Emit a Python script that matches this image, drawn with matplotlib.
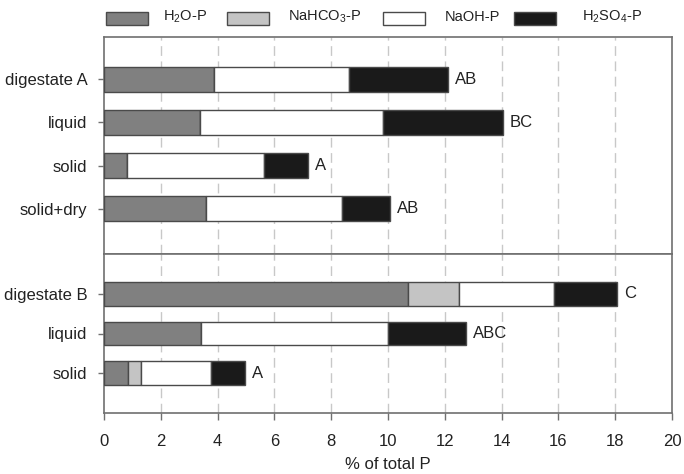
import matplotlib
matplotlib.use("Agg")
import matplotlib.pyplot as plt
import numpy as np
from matplotlib.patches import Rectangle

plt.rcParams['font.family'] = ['Liberation Sans', 'DejaVu Sans']
plt.rcParams['mathtext.fontset'] = 'custom'
plt.rcParams['mathtext.rm'] = 'Liberation Sans'
plt.rcParams['mathtext.it'] = 'Liberation Sans'
plt.rcParams['mathtext.bf'] = 'Liberation Sans'

# ---- data ----
samples_A = ['digestate A', 'liquid', 'solid', 'solid+dry']
h2o_A = [3.87, 3.37, 0.80, 3.60]
nahco3_A = [0.0, 0.0, 0.0, 0.0]
naoh_A = [4.76, 6.45, 4.85, 4.77]
h2so4_A = [3.49, 4.23, 1.55, 1.70]
letters_A = ['AB', 'BC', 'A', 'AB']

samples_B = ['digestate B', 'liquid', 'solid']
h2o_B = [10.70, 3.40, 0.85]
nahco3_B = [1.80, 0.0, 0.44]
naoh_B = [3.34, 6.60, 2.46]
h2so4_B = [2.22, 2.75, 1.22]
letters_B = ['C', 'ABC', 'A']

fractions = [r'H$_\mathregular{2}$O-P', r'NaHCO$_\mathregular{3}$-P', 'NaOH-P',
             r'H$_\mathregular{2}$SO$_\mathregular{4}$-P']
xticks = [0, 2, 4, 6, 8, 10, 12, 14, 16, 18, 20]
xlabel = '% of total P'

colors = ['#808080', '#c4c4c4', '#ffffff', '#1a1a1a']
edge = '#4a4a4a'
spine_c = '#707070'
grid_c = '#c8c8c8'

W, H = 684, 474
fig = plt.figure(figsize=(W / 100, H / 100), dpi=100)

left = 104 / W
width = (672 - 104) / W
axA = fig.add_axes([left, 1 - 254 / H, width, (254 - 37) / H])
axB = fig.add_axes([left, 1 - 413 / H, width, (413 - 254) / H])


def draw(ax, samples, series, letters, ylim, bh, show_x):
    y = np.arange(len(samples))
    base = np.zeros(len(samples))
    for vals, c in zip(series, colors):
        ax.barh(y, vals, left=base, height=bh, color=c, edgecolor=edge,
                linewidth=1.0, zorder=3)
        base = base + np.array(vals)
    for yi, tot, lab in zip(y, base, letters):
        ax.annotate(lab, xy=(tot, yi), xytext=(5, 0), textcoords='offset points',
                    va='center', ha='left', fontsize=12, color='#222222')
    ax.set_xlim(0, 20)
    ax.set_ylim(*ylim)
    ax.set_yticks(y)
    ax.set_yticklabels(samples, fontsize=12, color='#222222')
    for xv in xticks[1:-1]:
        ax.axvline(xv, color=grid_c, lw=1.0, dashes=(7, 4), zorder=1)
    ax.set_xticks(xticks)
    ax.tick_params(axis='y', length=4, width=1, color=spine_c, pad=8)
    if show_x:
        ax.set_xticklabels([str(v) for v in xticks], fontsize=12, color='#222222')
        ax.tick_params(axis='x', length=5, width=1, color=spine_c, pad=10)
    else:
        ax.tick_params(axis='x', length=0, labelbottom=False)
    for s in ax.spines.values():
        s.set_color(spine_c)
        s.set_linewidth(1.2)


draw(axA, samples_A, [h2o_A, nahco3_A, naoh_A, h2so4_A], letters_A,
     (4.05, -0.98), 0.58, False)
draw(axB, samples_B, [h2o_B, nahco3_B, naoh_B, h2so4_B], letters_B,
     (3.0, -1.0), 0.6, True)

# legend (manual layout)
patch_x = [106, 227, 383, 514]
text_x = [163, 288, 445, 582]
for px, tx, lab, c in zip(patch_x, text_x, fractions, colors):
    fig.add_artist(Rectangle((px / W, 1 - 25 / H), 42 / W, 13 / H,
                             transform=fig.transFigure, facecolor=c,
                             edgecolor=edge, linewidth=1.0))
    fig.text(tx / W, 1 - 21 / H, lab, fontsize=10.5, ha='left', va='baseline',
             color='#222222')

fig.text((104 + 672) / 2 / W, 2 / H, xlabel, fontsize=12, ha='center',
         va='bottom', color='#222222')

fig.savefig('out.png', dpi=100)
